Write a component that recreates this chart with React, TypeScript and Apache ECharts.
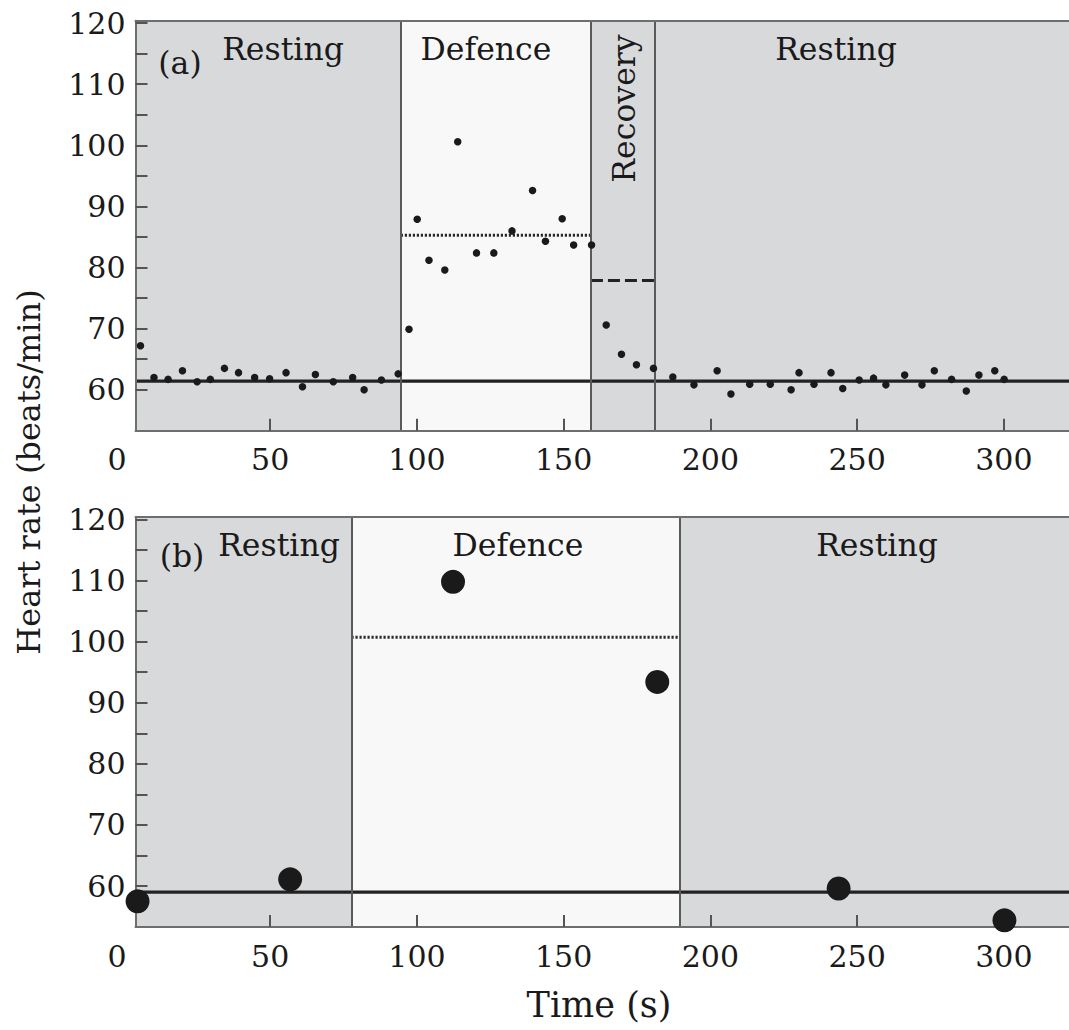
import React, { useEffect, useRef } from "react";
import * as echarts from "echarts";

// Heart rate (beats/min) against time (s), two recordings.
// Panel (a): one reading every few seconds through rest, defence, recovery and rest.
const panelAPoints: [number, number][] = [
  [5.8, 67.2], [10.4, 62.0], [15.2, 61.7], [20.1, 63.1], [25.1, 61.3], [29.6, 61.7],
  [34.4, 63.5], [39.2, 62.8], [44.7, 62.0], [49.8, 61.8], [55.4, 62.8], [61.0, 60.5],
  [65.4, 62.5], [71.5, 61.3], [78.1, 62.0], [82.0, 60.0], [87.9, 61.6], [93.6, 62.6],
  [97.3, 69.9], [100.1, 87.9], [104.1, 81.2], [109.5, 79.6], [113.9, 100.6], [120.3, 82.4],
  [126.2, 82.4], [132.4, 86.0], [139.4, 92.6], [143.8, 84.3], [149.5, 88.0], [153.4, 83.7],
  [159.5, 83.7],
  [164.5, 70.6], [169.7, 65.8], [174.8, 64.1], [180.6, 63.5],
  [187.2, 62.1], [194.4, 60.8], [202.3, 63.1], [207.0, 59.3], [213.4, 60.9], [220.4, 60.9],
  [227.5, 60.0], [230.2, 62.8], [235.3, 60.9], [241.1, 62.8], [245.1, 60.2], [250.7, 61.6],
  [255.6, 61.9], [259.8, 60.8], [266.2, 62.4], [272.1, 60.8], [276.3, 63.1], [282.2, 61.7],
  [287.2, 59.8], [291.5, 62.4], [296.9, 63.1], [300.1, 61.7],
];
const panelABoundaries = [94.5, 159.3, 181.0];
const panelAPhases = ["Resting", "Defence", "Recovery", "Resting"];
const panelARestingMean = 61.4;
const panelADefenceMean = 85.3;
const panelARecoveryMean = 77.9;

// Panel (b): sparse readings, rest, defence, rest.
const panelBPoints: [number, number][] = [
  [4.8, 57.5], [56.8, 61.1], [112.3, 109.8], [181.9, 93.4], [243.7, 59.6], [300.2, 54.4],
];
const panelBBoundaries = [77.7, 189.6];
const panelBPhases = ["Resting", "Defence", "Resting"];
const panelBRestingMean = 59.0;
const panelBDefenceMean = 100.7;

// Axes
const X_MIN = 4.1;
const X_MAX = 322.2;
const Y_MIN = 53.3;
const Y_MAX = 120.4;
const xTickLabels = [0, 50, 100, 150, 200, 250, 300];
const yTickLabels = [60, 70, 80, 90, 100, 110, 120];
const yTickMarks = [60, 65, 70, 75, 80, 85, 90, 95, 100, 105, 110, 115, 120];

const FONT = "DejaVu Serif";
const INK = "#1a1a1a";
const REST_FILL = "#d8d9db";
const ACTIVE_FILL = "#f8f8f8";
const FRAME = "#6e6e6e";
const DIVIDER = "#5a5a5a";

const GRID_LEFT = 135.5;
const GRID_WIDTH = 936.5;
const GRID_HEIGHT = 410;
const GRID_TOPS = [20.7, 517];

function phaseAreas(bounds: number[], phases: string[]) {
  const edges = [X_MIN, ...bounds, X_MAX];
  return phases.map((name, i) => [
    {
      name,
      xAxis: edges[i],
      itemStyle: { color: name === "Defence" ? ACTIVE_FILL : REST_FILL, opacity: 1 },
    },
    { xAxis: edges[i + 1] },
  ]);
}

function panelSeries(
  idx: number,
  points: [number, number][],
  bounds: number[],
  phases: string[],
  restMean: number,
  defenceMean: number,
  recoveryMean: number | null,
  dotSize: number
) {
  const axes = { xAxisIndex: idx, yAxisIndex: idx };
  const list: any[] = [
    {
      type: "line",
      ...axes,
      data: [],
      z: 1,
      silent: true,
      markArea: { silent: true, label: { show: false }, data: phaseAreas(bounds, phases) },
      markLine: {
        silent: true,
        symbol: "none",
        label: { show: false },
        lineStyle: { color: DIVIDER, width: 2, type: "solid", opacity: 1 },
        data: bounds.map((b) => ({ xAxis: b })),
      },
    },
    {
      type: "line",
      ...axes,
      z: 3,
      silent: true,
      showSymbol: false,
      lineStyle: { color: "#222", width: 3.3 },
      data: [[X_MIN, restMean], [X_MAX, restMean]],
    },
    {
      type: "line",
      ...axes,
      z: 3,
      silent: true,
      showSymbol: false,
      lineStyle: { color: "#2a2a2a", width: 3, type: [2.2, 1.8] },
      data: [[bounds[0], defenceMean], [bounds[1], defenceMean]],
    },
  ];
  if (recoveryMean !== null) {
    list.push({
      type: "line",
      ...axes,
      z: 3,
      silent: true,
      showSymbol: false,
      lineStyle: { color: "#222", width: 3, type: [12, 5] },
      data: [[bounds[1], recoveryMean], [bounds[2], recoveryMean]],
    });
  }
  list.push({
    type: "scatter",
    ...axes,
    z: 6,
    symbol: "circle",
    symbolSize: dotSize,
    itemStyle: { color: INK, opacity: 1 },
    data: points,
  });
  return list;
}

function bottomAxis(g: number) {
  return {
    gridIndex: g,
    type: "value",
    position: "bottom",
    min: X_MIN,
    max: X_MAX,
    z: 5,
    axisLine: { show: true, onZero: false, lineStyle: { color: FRAME, width: 2 } },
    axisTick: {
      show: true,
      inside: true,
      length: 12,
      customValues: xTickLabels.filter((v) => v > X_MIN),
      lineStyle: { color: "#555", width: 2 },
    },
    axisLabel: {
      customValues: xTickLabels.filter((v) => v > X_MIN),
      fontFamily: FONT,
      fontSize: 30,
      color: INK,
      margin: 14,
    },
    splitLine: { show: false },
  };
}

function topAxis(g: number) {
  return {
    gridIndex: g,
    type: "value",
    position: "top",
    min: X_MIN,
    max: X_MAX,
    z: 5,
    axisLine: { show: true, onZero: false, lineStyle: { color: FRAME, width: 2 } },
    axisTick: { show: false },
    axisLabel: { show: false },
    splitLine: { show: false },
  };
}

function leftAxis(g: number) {
  return {
    gridIndex: g,
    type: "value",
    min: Y_MIN,
    max: Y_MAX,
    z: 5,
    axisLine: { show: true, onZero: false, lineStyle: { color: FRAME, width: 2 } },
    axisTick: {
      show: true,
      inside: true,
      length: 12,
      customValues: yTickMarks,
      lineStyle: { color: "#555", width: 2 },
    },
    axisLabel: {
      customValues: yTickLabels,
      fontFamily: FONT,
      fontSize: 30,
      color: INK,
      margin: 10,
    },
    splitLine: { show: false },
  };
}

function label(text: string, x: number, y: number, extra: any = {}, fontSize = 31.5) {
  return {
    type: "text",
    x,
    y,
    z: 10,
    silent: true,
    style: {
      text,
      fontFamily: FONT,
      fontSize,
      fill: INK,
      align: "center",
      verticalAlign: "middle",
    },
    ...extra,
  };
}

export default function App() {
  const ref = useRef<HTMLDivElement>(null);

  useEffect(() => {
    if (!ref.current) return;
    const chart = echarts.init(ref.current, undefined, { renderer: "svg" });
    const yOff = GRID_TOPS[1] - GRID_TOPS[0];
    chart.setOption({
      animation: false,
      backgroundColor: "#ffffff",
      grid: GRID_TOPS.map((top) => ({
        left: GRID_LEFT,
        top,
        width: GRID_WIDTH,
        height: GRID_HEIGHT,
        show: false,
      })),
      xAxis: [bottomAxis(0), bottomAxis(1), topAxis(0), topAxis(1)],
      yAxis: [leftAxis(0), leftAxis(1)],
      series: [
        ...panelSeries(0, panelAPoints, panelABoundaries, panelAPhases,
          panelARestingMean, panelADefenceMean, panelARecoveryMean, 7.5),
        ...panelSeries(1, panelBPoints, panelBBoundaries, panelBPhases,
          panelBRestingMean, panelBDefenceMean, null, 24),
      ],
      graphic: [
        // panel (a) phase names
        label("(a)", 180, 62.5),
        label("Resting", 283, 48.8),
        label("Defence", 486, 48.8),
        label("Recovery", 623.8, 108.5, { rotation: Math.PI / 2 }),
        label("Resting", 836, 48.8),
        // panel (b) phase names
        label("(b)", 182, 555.5),
        label("Resting", 279, 48.8 + yOff),
        label("Defence", 518, 48.8 + yOff),
        label("Resting", 877, 48.8 + yOff),
        // origin labels of the time axes
        label("0", 117, GRID_TOPS[0] + GRID_HEIGHT + 14 + 15, {}, 30),
        label("0", 117, GRID_TOPS[1] + GRID_HEIGHT + 14 + 15, {}, 30),
        // axis titles
        label("Heart rate (beats/min)", 28.5, 472, { rotation: Math.PI / 2 }, 32),
        label("Time (s)", 599, 1005, {}, 35),
      ],
    });
    return () => chart.dispose();
  }, []);

  return (
    <div
      ref={ref}
      style={{ position: "fixed", left: 0, top: 0, width: 1069, height: 1030, background: "#fff" }}
    />
  );
}
